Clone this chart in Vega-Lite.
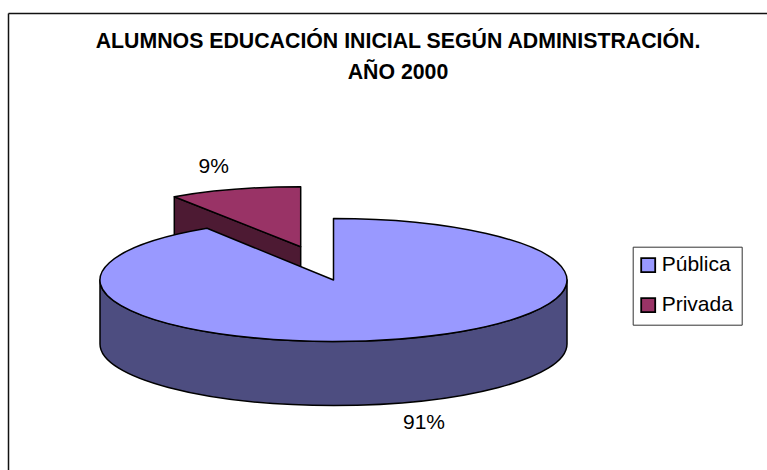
{
"$schema":"https://vega.github.io/schema/vega-lite/v6.json",
"autosize":"none",
"padding":{"left":8,"top":13,"right":0,"bottom":0},
"width":759,"height":457,
"background":"white",
"config":{"view":{"stroke":null},"font":"Liberation Sans"},
"title":{"text":["ALUMNOS EDUCACIÓN INICIAL SEGÚN ADMINISTRACIÓN.","AÑO 2000\u00a0\u00a0"],"font":"Liberation Sans","fontSize":21.3,"fontWeight":"bold","color":"#000","anchor":"middle","frame":"group","dx":10.5,"dy":70,"lineHeight":30.7,"offset":0},
"data":{"values":[
{"Año":"2000","Administración":"Pública","Alumnos":0.91},
{"Año":"2000","Administración":"Privada","Alumnos":0.09}
]},
"encoding":{
"x":{"field":"Año","type":"nominal","axis":{"orient":"top","title":null,"labels":false,"ticks":false,"grid":false,"domain":true,"domainColor":"#111","domainWidth":1.5}},
"y":{"field":"Año","type":"nominal","axis":{"orient":"left","title":null,"labels":false,"ticks":false,"grid":false,"domain":true,"domainColor":"#111","domainWidth":1.5}}
},
"layer":[
{"mark":{"type":"point","filled":true,"opacity":1,"stroke":"#000","strokeWidth":1.5,"strokeJoin":"round","size":4},
"encoding":{
"color":{"field":"Administración","type":"nominal","legend":null,"scale":{"domain":["Privada","Pública"],"range":["#4D1A33","#4D4D80"]}},
"shape":{"field":"Administración","type":"nominal","legend":null,"scale":{"domain":["Privada","Pública"],"range":["M-213.2 -44.8L-86.8 5.2L-86.8 70L-213.2 20Z","M179.5 38.5L179.5 102.5A233.5 61.5 0 0 1 -287.5 102.5L-287.5 38.5A233.5 61.5 0 0 0 179.5 38.5Z"]}}
}},
{"mark":{"type":"point","filled":true,"opacity":1,"stroke":"#000","strokeWidth":1.5,"strokeJoin":"round","size":4},
"encoding":{
"color":{"field":"Administración","type":"nominal","scale":{"domain":["Pública","Privada"],"range":["#9999FF","#993366"]},
"legend":{"title":null,"orient":"none","legendX":624.7,"legendY":233.7,"symbolType":"square","symbolSize":196,"symbolStrokeColor":"#000","symbolStrokeWidth":1.8,"symbolOpacity":1,"symbolOffset":-3,"labelFont":"Liberation Sans","labelFontSize":21,"labelColor":"#000","labelOffset":3,"rowPadding":17,"padding":8,"strokeColor":"#333","fillColor":"white","labelLimit":200,"values":["Pública","Privada"]}},
"shape":{"field":"Administración","type":"nominal","legend":null,"scale":{"domain":["Privada","Pública"],"range":["M-86.8 5.2L-213.2 -44.8A233.5 61.5 0 0 1 -86.8 -54.8Z","M-54 38.5L-54 -23A233.5 61.5 0 1 1 -180.5 -13.2Z"]}}
}},
{"transform":[{"filter":"datum['Administración']==='Pública'"}],
"mark":{"type":"text","font":"Liberation Sans","fontSize":21,"color":"#000","dx":36.5,"dy":181.5,"baseline":"middle","align":"center"},
"encoding":{"text":{"field":"Alumnos","type":"quantitative","format":".0%"}}},
{"transform":[{"filter":"datum['Administración']==='Privada'"}],
"mark":{"type":"text","font":"Liberation Sans","fontSize":21,"color":"#000","dx":-173.8,"dy":-75,"baseline":"middle","align":"center"},
"encoding":{"text":{"field":"Alumnos","type":"quantitative","format":".0%"}}}
],
"resolve":{"scale":{"color":"independent","shape":"independent"}}
}
